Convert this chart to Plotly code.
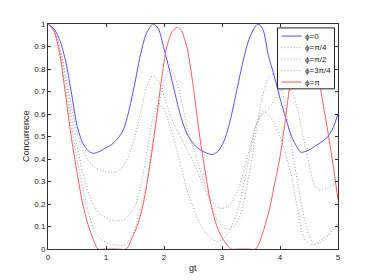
import plotly.graph_objects as go

# ---------------- data ----------------
t_phi0 = [0, 0.1, 0.2, 0.3, 0.4, 0.5, 0.6, 0.7, 0.78, 0.9, 1.0, 1.1, 1.2, 1.3, 1.4, 1.5, 1.6, 1.7, 1.81,
          1.9, 2.0, 2.1, 2.2, 2.3, 2.4, 2.5, 2.6, 2.7, 2.84, 2.95, 3.05, 3.15, 3.25, 3.35, 3.45, 3.55, 3.62,
          3.7, 3.8, 3.9, 4.0, 4.1, 4.2, 4.3, 4.36, 4.5, 4.62, 4.79, 4.9, 5.0]
c_phi0 = [1.0, 0.98, 0.93, 0.84, 0.70, 0.55, 0.47, 0.435, 0.425, 0.435, 0.45, 0.465, 0.49, 0.53, 0.62, 0.74, 0.87, 0.96, 1.0,
          0.98, 0.89, 0.79, 0.68, 0.58, 0.51, 0.47, 0.445, 0.43, 0.42, 0.44, 0.49, 0.58, 0.70, 0.82, 0.92, 0.98, 1.0,
          0.98, 0.86, 0.77, 0.67, 0.58, 0.50, 0.45, 0.43, 0.44, 0.46, 0.49, 0.53, 0.60]

t_phi1 = [0, 0.1, 0.2, 0.3, 0.4, 0.5, 0.6, 0.7, 0.8, 0.9, 1.0, 1.1, 1.2, 1.3, 1.4, 1.5, 1.6, 1.7, 1.8,
          1.9, 2.0, 2.1, 2.2, 2.3, 2.4, 2.5, 2.6, 2.7, 2.8, 2.9, 3.0, 3.1, 3.2, 3.3, 3.4, 3.5, 3.6, 3.7,
          3.8, 3.9, 4.0, 4.1, 4.2, 4.3, 4.4, 4.5, 4.6, 4.7, 4.8, 4.9, 5.0]
c_phi1 = [1.0, 0.975, 0.90, 0.78, 0.64, 0.52, 0.44, 0.39, 0.365, 0.35, 0.345, 0.34, 0.345, 0.37, 0.42, 0.50, 0.61, 0.72, 0.77,
          0.75, 0.68, 0.60, 0.54, 0.49, 0.44, 0.39, 0.33, 0.27, 0.22, 0.19, 0.18, 0.19, 0.22, 0.28, 0.37, 0.47, 0.56, 0.60,
          0.62, 0.66, 0.70, 0.72, 0.70, 0.62, 0.50, 0.38, 0.28, 0.26, 0.27, 0.28, 0.30]

t_phi2 = [0, 0.1, 0.2, 0.3, 0.4, 0.5, 0.6, 0.7, 0.8, 0.9, 1.0, 1.1, 1.2, 1.3, 1.4, 1.5, 1.6, 1.7, 1.8,
          1.9, 2.0, 2.1, 2.2, 2.3, 2.4, 2.5, 2.6, 2.7, 2.8, 2.9, 3.0, 3.1, 3.2, 3.3, 3.4, 3.5, 3.6, 3.7,
          3.8, 3.9, 4.0, 4.1, 4.2, 4.3, 4.4, 4.5, 4.6, 4.7, 4.8, 4.9, 5.0]
c_phi2 = [1.0, 0.97, 0.89, 0.76, 0.60, 0.46, 0.34, 0.25, 0.19, 0.155, 0.14, 0.13, 0.125, 0.13, 0.15, 0.19, 0.28, 0.42, 0.57,
          0.645, 0.62, 0.55, 0.46, 0.36, 0.26, 0.19, 0.12, 0.08, 0.05, 0.035, 0.04, 0.07, 0.12, 0.20, 0.32, 0.45, 0.56, 0.61,
          0.60, 0.56, 0.50, 0.42, 0.32, 0.18, 0.06, 0.02, 0.02, 0.04, 0.06, 0.08, 0.11]

t_phi3 = [0, 0.1, 0.2, 0.3, 0.4, 0.5, 0.6, 0.7, 0.8, 0.9, 1.0, 1.1, 1.2, 1.3, 1.4, 1.5, 1.6, 1.7, 1.8,
          1.9, 2.0, 2.1, 2.2, 2.3, 2.4, 2.5, 2.6, 2.7, 2.8, 2.9, 3.0, 3.1, 3.2, 3.3, 3.4, 3.5, 3.6, 3.7,
          3.8, 3.9, 4.0, 4.1, 4.2, 4.3, 4.4, 4.5, 4.6, 4.7, 4.8, 4.9, 5.0]
c_phi3 = [1.0, 0.97, 0.88, 0.72, 0.55, 0.40, 0.27, 0.16, 0.08, 0.045, 0.03, 0.02, 0.017, 0.016, 0.04, 0.09, 0.18, 0.30, 0.47,
          0.62, 0.74, 0.80, 0.76, 0.66, 0.54, 0.45, 0.37, 0.29, 0.21, 0.14, 0.10, 0.09, 0.10, 0.14, 0.24, 0.38, 0.54, 0.68,
          0.76, 0.78, 0.74, 0.62, 0.46, 0.30, 0.16, 0.06, 0.02, 0.03, 0.05, 0.08, 0.12]

t_phi4 = [0, 0.1, 0.2, 0.3, 0.4, 0.5, 0.6, 0.7, 0.8, 0.86, 1.0, 1.2, 1.35, 1.45, 1.55, 1.65, 1.75, 1.85, 1.95,
          2.05, 2.15, 2.23, 2.3, 2.4, 2.5, 2.6, 2.7, 2.8, 2.9, 3.0, 3.1, 3.15, 3.3, 3.45, 3.58, 3.7, 3.82,
          3.9, 4.0, 4.1, 4.16, 4.25, 4.35, 4.43, 4.5, 4.6, 4.7, 4.8, 4.9, 5.0]
c_phi4 = [1.0, 0.97, 0.87, 0.69, 0.50, 0.34, 0.20, 0.10, 0.03, 0.0, 0.0, 0.0, 0.0, 0.05, 0.11, 0.21, 0.36, 0.54, 0.74,
          0.90, 0.97, 0.985, 0.97, 0.89, 0.73, 0.53, 0.36, 0.21, 0.11, 0.05, 0.015, 0.0, 0.0, 0.0, 0.0, 0.07, 0.18,
          0.28, 0.41, 0.59, 0.71, 0.85, 0.95, 0.98, 0.96, 0.87, 0.71, 0.56, 0.40, 0.22]

series_names = ["ϕ=0", "ϕ=π/4", "ϕ=π/2", "ϕ=3π/4", "ϕ=π"]
x_ticks = [0, 1, 2, 3, 4, 5]
y_ticks = [0, 0.1, 0.2, 0.3, 0.4, 0.5, 0.6, 0.7, 0.8, 0.9, 1]
y_tick_text = ["0", "0.1", "0.2", "0.3", "0.4", "0.5", "0.6", "0.7", "0.8", "0.9", "1"]

# ---------------- styles ----------------
xs = [t_phi0, t_phi1, t_phi2, t_phi3, t_phi4]
ys = [c_phi0, c_phi1, c_phi2, c_phi3, c_phi4]
GRAY = "rgb(160,160,160)"
colors = ["rgb(80,80,255)", GRAY, GRAY, GRAY, "rgb(255,90,90)"]
dashes = ["solid", "1px,2px", "1px,2px", "1px,2px", "solid"]

FONT = "Liberation Sans, Arial, sans-serif"
W, H = 374, 280
OFF = 8  # page body margin offset
# target plot area in window pixels: x 48..338, y 20..249
L, T = 48 - OFF, 20 - OFF
PW, PH = 290, 229
R = W - L - PW
B = H - T - PH

fig = go.Figure()
order = [1, 2, 3, 0, 4]
for i in order:
    fig.add_trace(go.Scatter(
        x=xs[i], y=ys[i], mode="lines", name=series_names[i],
        line=dict(color=colors[i], width=1, dash=dashes[i], shape="spline", smoothing=0.8),
        showlegend=False, hoverinfo="skip"))

axis_common = dict(showgrid=False, zeroline=False, showline=True, mirror="ticks",
                   linecolor="#333333", linewidth=1, ticks="inside", ticklen=3,
                   tickcolor="#333333", tickfont=dict(family=FONT, size=8, color="#222222"))
fig.update_xaxes(range=[0, 5], tickvals=x_ticks, ticktext=[str(v) for v in x_ticks], **axis_common)
fig.update_yaxes(range=[0, 1], tickvals=y_ticks, ticktext=y_tick_text, **axis_common)

# helpers: window pixel -> paper coordinates
def px_x(p):
    return (p - 48) / PW

def px_y(p):
    return (249 - p) / PH

shapes = []
annotations = []
shapes.append(dict(type="rect", xref="paper", yref="paper",
                   x0=px_x(277.5), x1=px_x(334.5), y0=px_y(86), y1=px_y(24),
                   line=dict(color="#222222", width=1), fillcolor="white", layer="above"))
item_y = [32.3, 44.0, 55.7, 67.4, 79.1]
for k in range(5):
    yy = px_y(item_y[k])
    shapes.append(dict(type="line", xref="paper", yref="paper",
                       x0=px_x(281.5), x1=px_x(301.5), y0=yy, y1=yy,
                       line=dict(color=colors[k], width=1, dash=dashes[k]), layer="above"))
    annotations.append(dict(xref="paper", yref="paper", x=px_x(303), y=yy,
                            xanchor="left", yanchor="middle", showarrow=False,
                            text=series_names[k], font=dict(family=FONT, size=8, color="#222222")))

annotations.append(dict(xref="paper", yref="paper", x=px_x(193), y=px_y(268),
                        xanchor="center", yanchor="middle", showarrow=False,
                        text="gt", font=dict(family=FONT, size=9, color="#222222")))
annotations.append(dict(xref="paper", yref="paper", x=px_x(26), y=px_y(134),
                        xanchor="center", yanchor="middle", showarrow=False, textangle=-90,
                        text="Concurrence", font=dict(family=FONT, size=9, color="#222222")))

fig.update_layout(width=W, height=H, margin=dict(l=L, r=R, t=T, b=B),
                  paper_bgcolor="white", plot_bgcolor="white",
                  shapes=shapes, annotations=annotations, showlegend=False)

fig.write_html("out.html")
